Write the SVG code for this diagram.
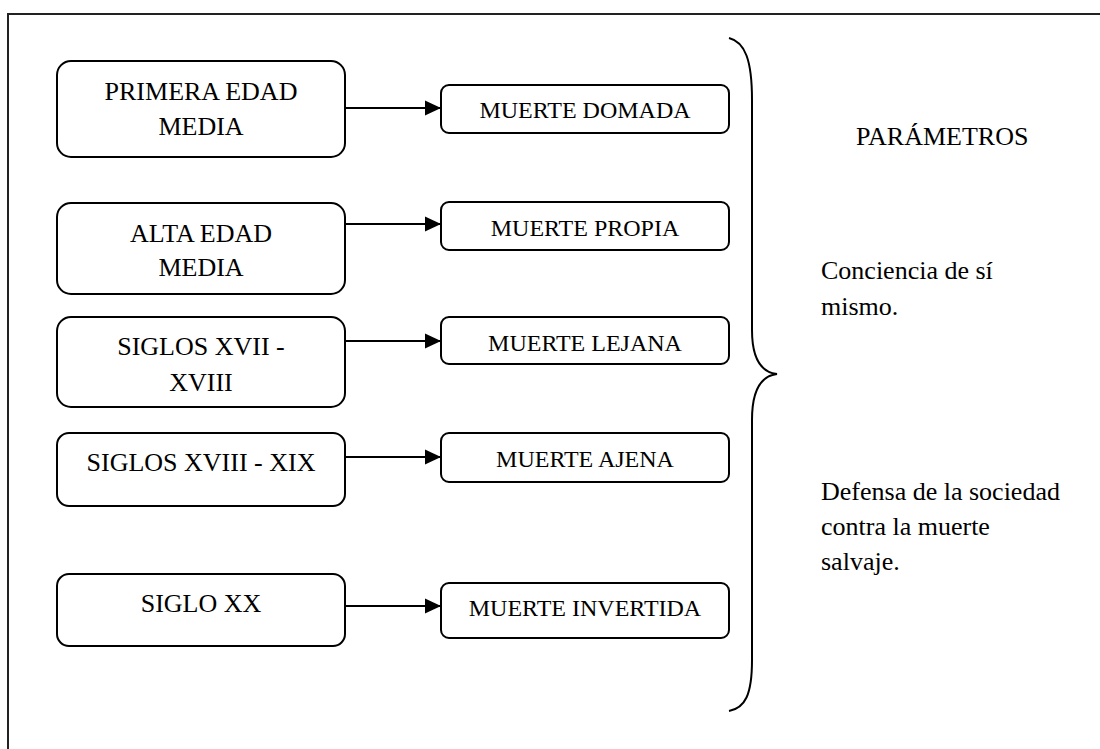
<svg xmlns="http://www.w3.org/2000/svg" width="1100" height="749" viewBox="0 0 1100 749">
<style>
.box{fill:#fff;stroke:#000;stroke-width:2}
text{font-family:'Liberation Serif','Times New Roman','DejaVu Serif',serif;fill:#000}
.l{font-size:26px;text-anchor:middle}
.r{font-size:24px;text-anchor:middle}
.p{font-size:26px}
.c{stroke:#000;stroke-width:2;fill:none}
</style>
<defs>
<marker id="ah" markerWidth="17" markerHeight="16" refX="16" refY="8" orient="auto" markerUnits="userSpaceOnUse">
<path d="M0,0.5 L16,8 L0,15.5 Z" fill="#000"/>
</marker>
</defs>
<rect width="1100" height="749" fill="#fff"/>
<path d="M8,749 L8,14 L1100,14" fill="none" stroke="#222" stroke-width="2"/>
<g id="connectors">
<line class="c" x1="345" y1="108" x2="441" y2="108" marker-end="url(#ah)"/>
<line class="c" x1="345" y1="224" x2="441" y2="224" marker-end="url(#ah)"/>
<line class="c" x1="345" y1="341" x2="441" y2="341" marker-end="url(#ah)"/>
<line class="c" x1="345" y1="457" x2="441" y2="457" marker-end="url(#ah)"/>
<line class="c" x1="345" y1="606" x2="441" y2="606" marker-end="url(#ah)"/>
</g>
<g id="n1"><rect class="box" x="57" y="61" width="288" height="96" rx="14"/><text class="l" x="201" y="100" font-family="Liberation Serif, serif">PRIMERA EDAD</text><text class="l" x="201" y="135" font-family="Liberation Serif, serif">MEDIA</text></g>
<g id="n2"><rect class="box" x="57" y="203" width="288" height="91" rx="14"/><text class="l" x="201" y="242" font-family="Liberation Serif, serif">ALTA EDAD</text><text class="l" x="201" y="276" font-family="Liberation Serif, serif">MEDIA</text></g>
<g id="n3"><rect class="box" x="57" y="317" width="288" height="90" rx="14"/><text class="l" x="201" y="355" font-family="Liberation Serif, serif">SIGLOS XVII -</text><text class="l" x="201" y="391" font-family="Liberation Serif, serif">XVIII</text></g>
<g id="n4"><rect class="box" x="57" y="433" width="288" height="73" rx="12"/><text class="l" x="201" y="471" font-family="Liberation Serif, serif">SIGLOS XVIII - XIX</text></g>
<g id="n5"><rect class="box" x="57" y="574" width="288" height="72" rx="12"/><text class="l" x="201" y="612" font-family="Liberation Serif, serif">SIGLO XX</text></g>
<g id="m1"><rect class="box" x="441" y="85" width="288" height="48" rx="8"/><text class="r" x="585" y="118" font-family="Liberation Serif, serif">MUERTE DOMADA</text></g>
<g id="m2"><rect class="box" x="441" y="202" width="288" height="48" rx="8"/><text class="r" x="585" y="236" font-family="Liberation Serif, serif">MUERTE PROPIA</text></g>
<g id="m3"><rect class="box" x="441" y="317" width="288" height="47" rx="8"/><text class="r" x="585" y="351" font-family="Liberation Serif, serif">MUERTE LEJANA</text></g>
<g id="m4"><rect class="box" x="441" y="433" width="288" height="49" rx="8"/><text class="r" x="585" y="467" font-family="Liberation Serif, serif">MUERTE AJENA</text></g>
<g id="m5"><rect class="box" x="441" y="583" width="288" height="55" rx="8"/><text class="r" x="585" y="616" font-family="Liberation Serif, serif">MUERTE INVERTIDA</text></g>
<g id="brace"><path class="c" d="M729,38 C745,42 752,60 752,100 L752,330 C752,358 760,372 777,374 C760,376 752,392 752,420 L752,660 C752,695 745,708 729,711"/></g>
<g id="params" font-family="Liberation Serif, serif">
<text class="p" x="856" y="145">PARÁMETROS</text>
<text class="p" x="821" y="279">Conciencia de sí</text>
<text class="p" x="821" y="315">mismo.</text>
<text class="p" x="821" y="500">Defensa de la sociedad</text>
<text class="p" x="821" y="535">contra la muerte</text>
<text class="p" x="821" y="570">salvaje.</text>
</g>
</svg>
